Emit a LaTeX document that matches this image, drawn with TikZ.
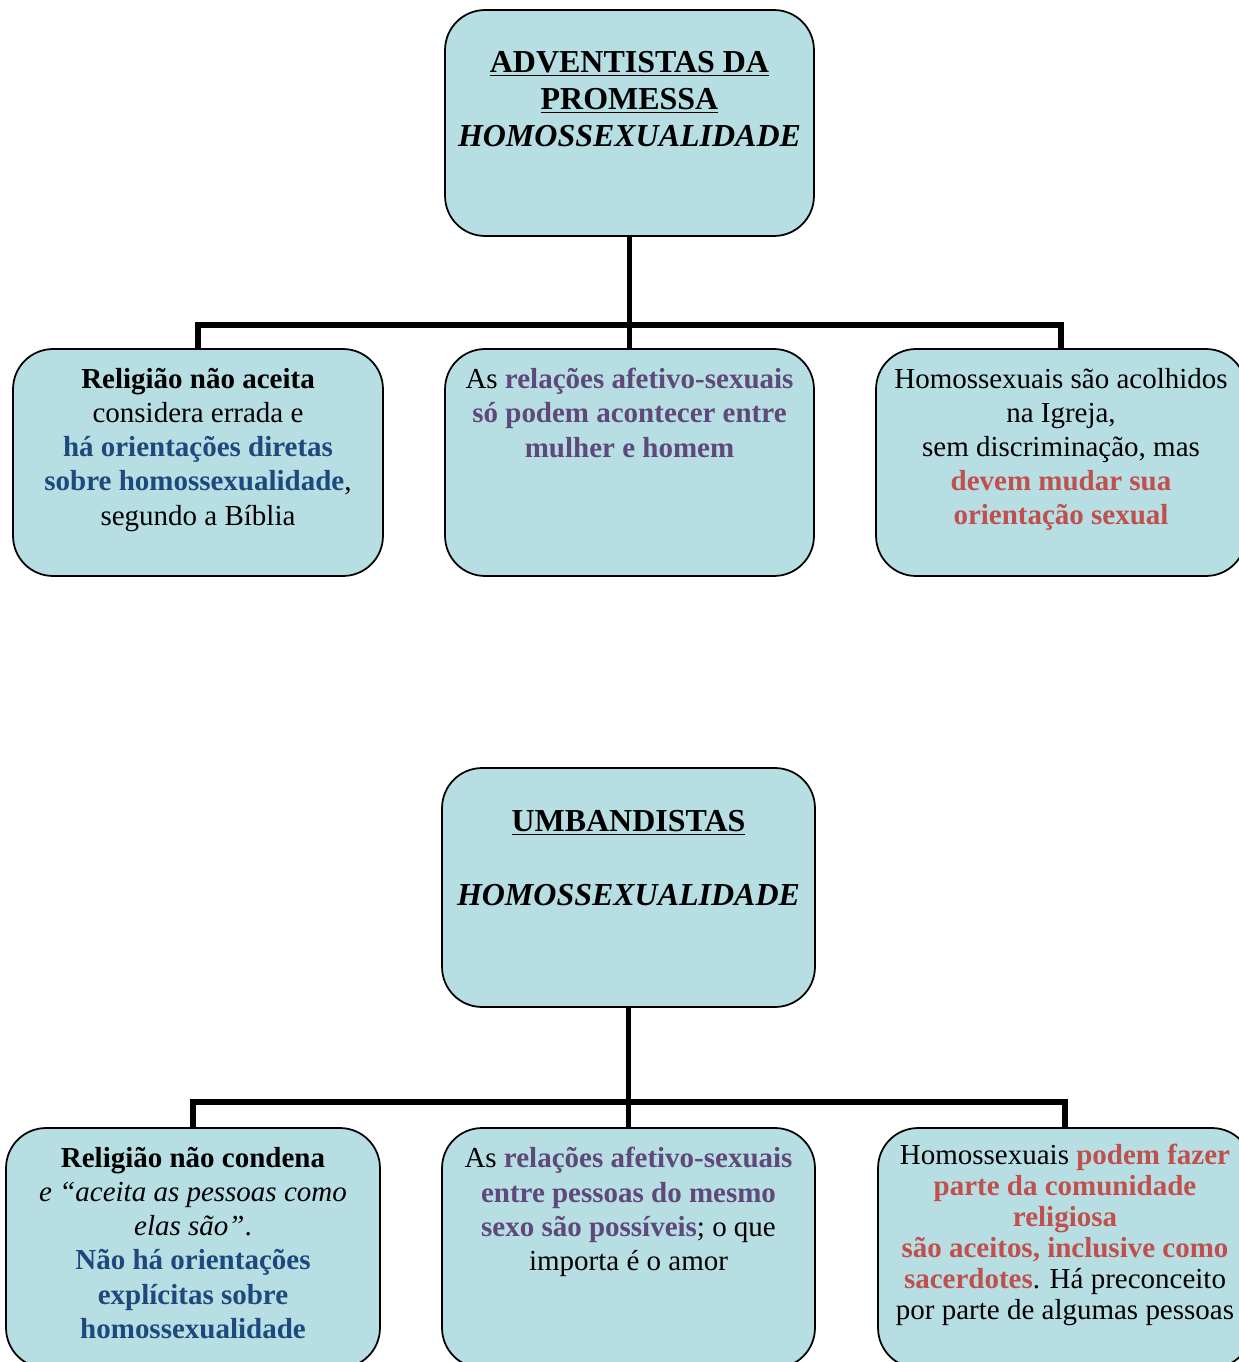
\documentclass[tikz,border=0pt]{standalone}
\usepackage{fontspec}
\setmainfont{Liberation Serif}

\definecolor{boxfill}{HTML}{B7DEE3}
\definecolor{txtblue}{HTML}{1F497D}
\definecolor{txtpurple}{HTML}{5F497A}
\definecolor{txtred}{HTML}{C0504D}

\newcommand{\azul}[1]{\textbf{\textcolor{txtblue}{#1}}}
\newcommand{\roxo}[1]{\textbf{\textcolor{txtpurple}{#1}}}
\newcommand{\verm}[1]{\textbf{\textcolor{txtred}{#1}}}

\begin{document}
\begin{tikzpicture}[x=0.02cm, y=-0.02cm,
    box/.style={draw, line width=1pt, rounded corners=0.8cm, fill=boxfill,
        minimum width=7.4cm, minimum height=4.54cm},
    link/.style={line width=3.4pt},
    body/.style={align=center, inner sep=0pt, font=\fontsize{16.5}{19.4}\selectfont},
    title/.style={align=center, inner sep=0pt, font=\fontsize{18.2}{21}\selectfont\bfseries}]
    %% Adventistas / Umbandistas

    % Frame
    \useasboundingbox (0,0) rectangle (1239,1362);

    % Adventistas boxes
    \node[box, minimum width=7.38cm, minimum height=4.52cm] (adv) at (629.5,123) {};
    \node[box] (adv1) at (198,462.5) {};
    \node[box, minimum width=7.38cm] (adv2) at (629.5,462.5) {};
    \node[box] (adv3) at (1061,462.5) {};

    % Umbandistas boxes
    \node[box, minimum width=7.46cm, minimum height=4.78cm] (umb) at (628.5,887.5) {};
    \node[box, minimum width=7.48cm, minimum height=4.8cm] (umb1) at (193,1248) {};
    \node[box, minimum width=7.46cm, minimum height=4.8cm] (umb2) at (628.5,1248) {};
    \node[box, minimum width=7.48cm, minimum height=4.8cm] (umb3) at (1065,1248) {};

    % Bars
    \coordinate (advbar) at (629.5,325);
    \coordinate (umbbar) at (628.5,1102);

    % Links
    \draw[link] (adv.south) -- (adv2.north);
    \draw[link] (adv1.north) |- (advbar) -| (adv3.north);
    \draw[link] (umb.south) -- (umb2.north);
    \draw[link] (umb1.north) |- (umbbar) -| (umb3.north);

    % Titles
    \node[title, below=0.84cm] (advtxt) at (adv.north)
        {\underline{ADVENTISTAS DA}\\ \underline{PROMESSA}\\ \textit{HOMOSSEXUALIDADE}};
    \node[title, below=0.86cm] (umbtxt) at (umb.north)
        {\underline{UMBANDISTAS}\\[21pt] \textit{HOMOSSEXUALIDADE}};

    % Adventistas texts
    \node[body, below=0.4cm] (adv1txt) at (adv1.north)
        {\textbf{Religião não aceita}\\ considera errada e\\ \azul{há orientações diretas}\\
         \azul{sobre homossexualidade},\\ segundo a Bíblia};
    \node[body, below=0.4cm] (adv2txt) at (adv2.north)
        {As \roxo{relações afetivo-sexuais}\\ \roxo{só podem acontecer entre}\\ \roxo{mulher e homem}};
    \node[body, below=0.4cm] (adv3txt) at (adv3.north)
        {Homossexuais são acolhidos\\ na Igreja,\\ sem discriminação, mas\\
         \verm{devem mudar sua}\\ \verm{orientação sexual}};

    % Umbandistas texts
    \node[body, below=0.4cm] (umb1txt) at (umb1.north)
        {\textbf{Religião não condena}\\ \textit{e “aceita as pessoas como}\\ \textit{elas são”}.\\
         \azul{Não há orientações}\\ \azul{explícitas sobre}\\ \azul{homossexualidade}};
    \node[body, below=0.4cm] (umb2txt) at (umb2.north)
        {As \roxo{relações afetivo-sexuais}\\ \roxo{entre pessoas do mesmo}\\
         \roxo{sexo são possíveis}; o que\\ importa é o amor};
    \node[body, font=\fontsize{16.5}{17.6}\selectfont, below=0.34cm] (umb3txt) at (umb3.north)
        {Homossexuais \verm{podem fazer}\\ \verm{parte da comunidade}\\ \verm{religiosa}\\
         \verm{são aceitos, inclusive como}\\ \verm{sacerdotes}. Há preconceito\\ por parte de algumas pessoas};

\end{tikzpicture}
\end{document}
